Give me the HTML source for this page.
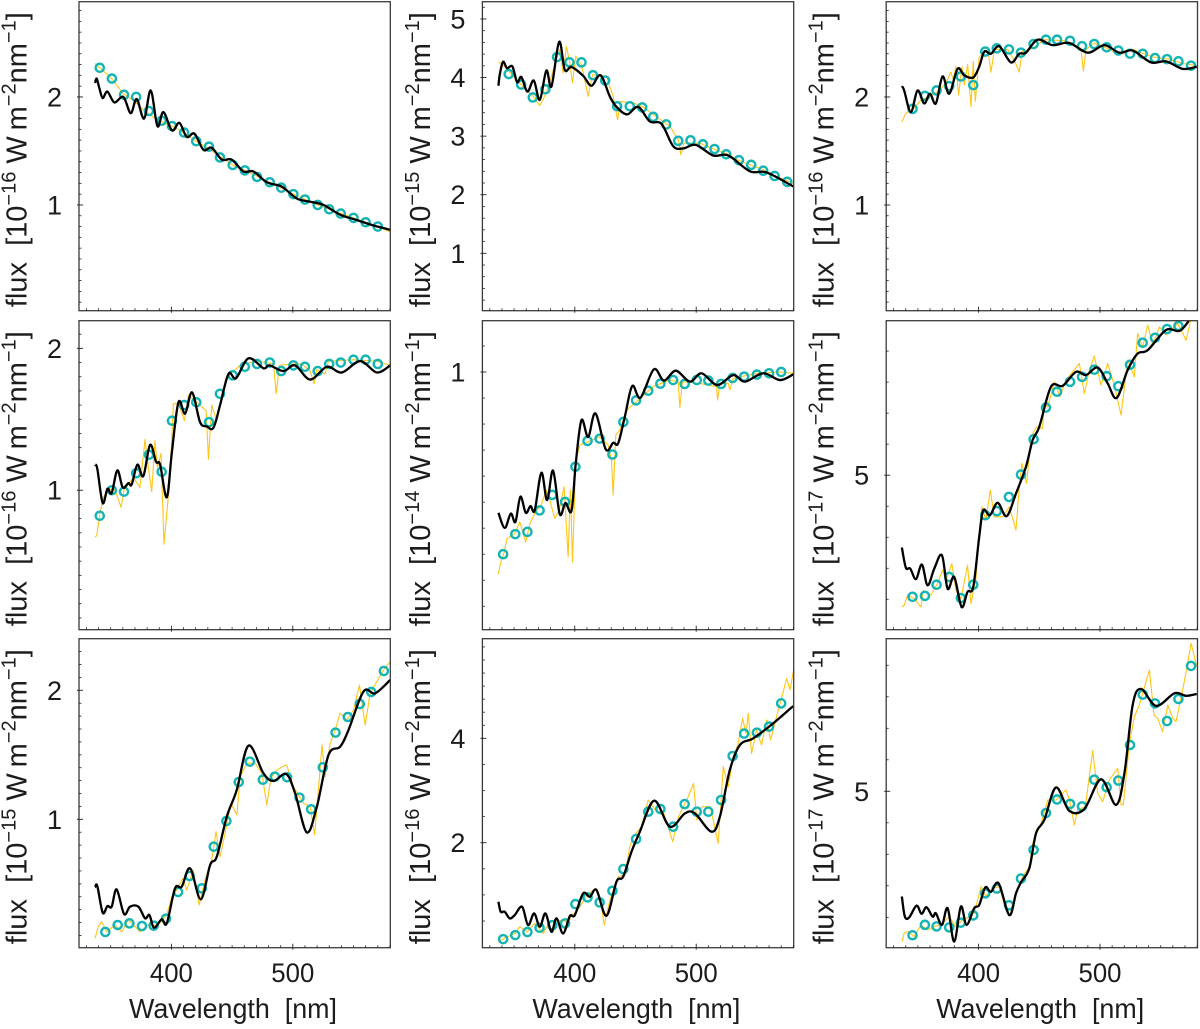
<!DOCTYPE html>
<html lang="en">
<head>
<meta charset="utf-8">
<title>Flux spectra</title>
<style>
html,body{margin:0;padding:0;background:#fff;}
svg{display:block;}
text{font-family:"Liberation Sans",sans-serif;fill:#1c1c1c;}
</style>
</head>
<body>
<svg id="figure" xmlns="http://www.w3.org/2000/svg" width="1200" height="1029" viewBox="0 0 1200 1029"></svg>
<script>
// Shared x axis data
const xLimits = [323.9, 580.3];
const xMajorTicks = [400, 500];
const xMinorTicks = [330,340,350,360,370,380,390,410,420,430,440,450,460,470,480,490,510,520,530,540,550,560,570,580];
const bandWavelengthsA = [341,351,361,371,381.5,392,400.5,410.5,420.5,431,440,450.5,460.5,470.5,481,490.5,500.5,510,520.5,530,539.5,550,560,570];
const bandWavelengthsB = [345.6,355.8,365.4,375.8,385.4,395.6,405.5,415,425,434.9,445.3,455.5,464.6,475.3,485.2,495.3,505.5,515.1,524.7,535.2,545.3,555.2,564.6,575];

// Panel 1
const p1Band = [2.27,2.17,2.02,2.00,1.87,1.78,1.73,1.67,1.59,1.54,1.44,1.37,1.32,1.26,1.21,1.16,1.10,1.05,1.00,.96,.92,.88,.84,.80];
const p1ModelX = [337.1,338.5,340.7,343.4,347.3,353,360.4,366.5,371.4,377.5,383,388.5,393.4,400.5,406.6,412.6,419,426.4,433.2,441.5,449.7,459.3,467.6,478.6,490.9,503.3,514.3,525.3,539,552.7,566.5,580.2];
const p1ModelY = [2.13,2.17,2.08,1.99,2.05,1.95,2.00,1.85,1.98,1.80,2.06,1.73,1.86,1.69,1.76,1.63,1.66,1.51,1.53,1.42,1.42,1.31,1.31,1.21,1.17,1.06,1.03,1.00,.91,.86,.81,.77];
const p1SpecX = [337.1,341.2,350.8,360.4,368.7,376.9,387.9,400.5,410.4,420.3,431,440,450.3,460.7,480.8,500.5,520.3,550,570,580.2];
const p1SpecY = [2.31,2.27,2.17,2.03,1.97,1.88,1.79,1.73,1.67,1.59,1.52,1.45,1.37,1.32,1.21,1.10,1.0,.88,.8,.75];
const p1Limits = [0.021, 2.882];
const p1Major = [1,2];
const p1Minor = [.1,.2,.3,.4,.5,.6,.7,.8,.9,1.1,1.2,1.3,1.4,1.5,1.6,1.7,1.8,1.9,2.1,2.2,2.3,2.4,2.5,2.6,2.7,2.8];

// Panel 2
const p2Band = [4.06,3.88,3.66,3.80,4.35,4.26,4.26,4.04,3.95,3.51,3.51,3.49,3.33,3.20,2.92,2.93,2.86,2.78,2.69,2.59,2.51,2.41,2.32,2.22];
const p2ModelX = [337.1,338.2,340.9,344.2,348.6,352.5,356,361,366.2,371.2,376.6,380.8,387.1,391.8,397.3,406.9,413.7,421.2,428.8,434.3,443.1,452.2,461.8,471.4,481,489.3,499.7,514,526.4,544.2,558,580];
const p2ModelY = [3.86,4.05,4.27,4.16,4.19,3.92,4.01,3.76,3.95,3.62,4.12,3.85,4.61,4.13,4.18,4.03,3.86,4.04,3.68,3.50,3.37,3.50,3.25,3.21,2.83,2.79,2.85,2.67,2.67,2.40,2.38,2.14];
const p2SpecX = [337.1,343.7,350.5,360.2,365.7,371.2,376.6,380.8,384.9,387.6,390.4,393.1,395.9,398.1,400.8,405.5,411,414.6,426.1,431.6,435.2,437.6,448,456.3,467.3,478.3,485.2,487.4,489.8,503,514.4,525.4,534.4,544.6,554.8,565,583];
const p2SpecY = [4.27,4.16,3.99,3.79,3.68,3.52,3.74,4.02,4.33,4.48,4.08,4.53,4.25,3.91,4.36,4.22,3.68,4.05,4.02,3.68,3.28,3.59,3.57,3.50,3.33,3.17,2.94,2.68,2.88,2.88,2.78,2.70,2.59,2.51,2.43,2.32,2.17];
const p2Limits = [0.02, 5.295];
const p2Major = [1,2,3,4,5];
const p2Minor = [.2,.4,.6,.8,1.2,1.4,1.6,1.8,2.2,2.4,2.6,2.8,3.2,3.4,3.6,3.8,4.2,4.4,4.6,4.8,5.2];

// Panel 3
const p3Band = [1.89,2.01,2.06,2.10,2.19,2.11,2.42,2.45,2.44,2.41,2.49,2.53,2.53,2.52,2.47,2.49,2.46,2.43,2.40,2.40,2.36,2.35,2.33,2.29];
const p3ModelX = [336.8,338.7,344.2,349.7,355.2,359.9,364.8,370.3,375.8,382.7,388.2,395.6,400.5,404.7,410.2,417,426.6,433.5,439,448.6,461,474.7,489.8,503.6,515.9,526.9,542,554.4,568.1,579.7];
const p3ModelY = [2.10,2.06,1.86,2.06,1.94,2.03,1.94,2.19,2.03,2.26,2.20,2.18,2.28,2.42,2.40,2.47,2.32,2.40,2.41,2.53,2.48,2.50,2.41,2.48,2.41,2.43,2.32,2.33,2.26,2.28];
const p3SpecX = [336.8,340.1,347,352.5,362.1,367.6,373.1,377.2,379.1,381.3,383.5,386.3,388.2,391,393.7,395.6,397.3,400.5,407.6,410.2,413,424,429.4,433.5,435.7,444.5,454.1,472,484.3,486.3,488.5,495.3,507.7,515.9,526.9,543.4,557.1,568.1,579.7];
const p3SpecY = [1.77,1.85,1.90,1.97,2.02,2.06,2.13,2.23,2.16,2.28,2.02,2.28,2.11,2.30,1.91,2.33,1.96,2.37,2.44,2.23,2.44,2.44,2.34,2.23,2.42,2.45,2.53,2.52,2.45,2.24,2.44,2.50,2.44,2.39,2.44,2.37,2.35,2.31,2.29];
const p3Limits = [0.021, 2.882];
const p3Major = [1,2];
const p3Minor = [.1,.2,.3,.4,.5,.6,.7,.8,.9,1.1,1.2,1.3,1.4,1.5,1.6,1.7,1.8,1.9,2.1,2.2,2.3,2.4,2.5,2.6,2.7,2.8];

// Panel 4
const p4Band = [.82,1.00,.99,1.12,1.25,1.13,1.49,1.60,1.62,1.48,1.68,1.81,1.87,1.89,1.90,1.84,1.88,1.87,1.84,1.89,1.90,1.92,1.92,1.89];
const p4ModelX = [337.1,339,343.4,347.3,350.8,355.5,359.9,364.6,367.3,372,376.9,382.4,387.4,390.7,396.2,400.3,405.8,411.3,417,423.6,429.1,434.6,440.1,447,453.3,463.5,475.8,480.8,492.3,501.9,514.3,528,540.4,555.5,569.2,580.2];
const p4ModelY = [1.18,1.15,.91,1.01,.98,1.14,1.02,1.05,1.04,1.18,1.10,1.32,1.20,1.18,.95,1.26,1.62,1.54,1.69,1.48,1.45,1.44,1.60,1.82,1.79,1.93,1.86,1.88,1.84,1.88,1.78,1.87,1.83,1.91,1.83,1.88];
const p4SpecX = [337.1,338.5,341.2,344,348,353.6,358.5,361,368.7,374.1,378.3,381,383.8,386.5,388.5,391.5,393.9,397,399.5,401.6,405.8,410.7,414,423.6,428.6,430.5,433.2,437.4,441.5,447,458,471.6,484.1,486.3,489,500.5,507.4,514.3,517.6,519.8,526.6,529.4,550,569.2,580.2];
const p4SpecY = [.67,.68,.84,.95,1.01,1.00,.88,1.00,1.09,1.02,1.36,1.16,.99,1.35,1.16,1.26,.62,.91,1.21,1.61,1.61,1.49,1.67,1.60,1.56,1.22,1.60,1.49,1.68,1.81,1.89,1.91,1.89,1.68,1.88,1.89,1.89,1.84,1.75,1.85,1.82,1.91,1.92,1.91,1.88];
const p4Limits = [0.017, 2.195];
const p4Major = [1,2];
const p4Minor = [.1,.2,.3,.4,.5,.6,.7,.8,.9,1.1,1.2,1.3,1.4,1.5,1.6,1.7,1.8,1.9,2.1];

// Panel 5
const p5Band = [.30,.377,.386,.468,.528,.501,.636,.735,.744,.683,.808,.891,.928,.955,.969,.954,.969,.967,.954,.977,.982,.99,.995,1.0];
const p5ModelX = [337.1,342.3,347.3,351.1,355.2,359.6,363.5,367,372.5,377.2,382.1,387.6,392.3,397.3,400.8,405.5,411,417,425.5,431.6,435.7,441.2,447.3,454.1,465.1,473.4,483.2,494.8,504.4,517.3,530.5,540.1,555.2,569,580];
const p5ModelY = [.459,.401,.456,.424,.521,.459,.485,.469,.613,.508,.621,.454,.497,.467,.649,.815,.751,.841,.703,.728,.726,.828,.946,.901,1.01,.967,1.005,.963,.995,.95,.988,.963,.995,.969,.991];
const p5SpecX = [337.1,338.7,341.5,344.2,350.5,354.7,359.6,363,367,372.5,376.6,379.4,383.5,387.1,391.2,394.5,396.4,398.1,400.8,404.1,411,420.6,427.5,430.2,431.6,433.8,437.1,442.6,450.8,464.6,478.3,485.2,486.5,488.7,503,516.8,517.6,519.5,526.4,527.7,530.5,550.3,569,580];
const p5SpecY = [.223,.264,.303,.36,.379,.424,.347,.418,.456,.492,.546,.508,.437,.469,.559,.29,.546,.27,.662,.719,.732,.751,.719,.662,.527,.758,.777,.854,.886,.944,.969,.963,.864,.963,.956,.944,.892,.956,.956,.931,.976,.995,1.0,.995];
const p5Limits = [0.01, 1.197];
const p5Major = [1];
const p5Minor = [.1,.2,.3,.4,.5,.6,.7,.8,.9,1.1];

// Panel 6
const p6Band = [1.08,1.11,1.47,1.72,1.04,1.47,3.71,3.84,4.30,5.02,6.16,7.18,7.69,8.01,8.17,8.40,8.19,7.87,8.56,9.27,9.43,9.71,9.81,10.2];
const p6ModelX = [336.8,340.1,343.7,348.4,353.3,358,363.5,369.8,374.5,379.9,386,390.9,395.6,400.5,403.8,409.3,415.7,423.1,430.8,439,444.5,450,459.6,469.2,480.2,488.5,498.1,506.3,513.7,522.8,531,539.3,554.4,566.8,579.7];
const p6ModelY = [2.67,2.02,1.99,1.65,2.12,1.45,1.99,2.42,1.34,1.72,.75,1.24,1.40,3.01,3.87,3.71,4.11,3.68,4.41,5.27,6.13,6.56,7.85,7.88,8.33,8.23,8.47,7.96,7.49,8.39,8.92,9.03,9.68,9.68,10.38];
const p6SpecX = [336.8,338.7,341.5,347,352.5,354.4,360.7,366.2,370.3,373.1,378,381.3,385.4,390.9,393.7,397.8,400.5,402.7,406,409.6,412.9,419.8,425.3,430.8,433.5,435.7,439.6,443.1,447.8,452.7,454.1,456.9,462.4,467,472,478.8,483,487.1,491.2,495.3,500.8,506.3,511.8,517.3,522.8,528.3,531,535.2,539.3,543.4,548.9,554.4,564,570.9,575,579.7];
const p6SpecY = [.75,.81,1.13,1.02,.75,1.29,1.13,1.51,1.94,1.61,2.15,1.29,1.02,2.10,.86,1.67,3.12,3.98,3.55,4.52,3.66,3.66,3.98,3.23,4.62,5.38,4.73,6.24,6.56,6.5,7.31,7.2,8.01,7.53,8.06,8.39,8.6,7.63,8.39,8.84,7.9,8.6,7.9,6.94,8.71,8.17,9.57,9.14,9.84,9.19,9.78,9.52,9.89,9.35,10.05,10.1];
const p6Limits = [0.02, 9.98];
const p6Major = [5];
const p6Minor = [1,2,3,4,6,7,8,9];

// Panel 7
const p7Band = [.127,.181,.194,.173,.176,.23,.437,.561,.465,.788,.987,1.289,1.447,1.307,1.331,1.326,1.168,1.078,1.403,1.672,1.793,1.894,1.987,2.15];
const p7ModelX = [337.1,339,343.4,347.3,350.8,354.9,361,365.9,372.8,378.3,381.9,385.7,392,396.2,403,408.5,415.4,424.2,431.9,437.4,445.6,453.8,463.5,475.8,484.1,494.5,501.9,511.5,519.8,529.4,539,545.9,558.2,567.9,580.2];
const p7ModelY = [.473,.483,.276,.328,.323,.457,.266,.323,.323,.233,.258,.16,.225,.194,.465,.478,.62,.38,.646,.711,1.02,1.227,1.571,1.357,1.297,1.351,1.202,.899,1.098,1.499,1.563,1.693,1.99,1.977,2.08];
const p7SpecX = [337.1,339.8,342.6,346.7,353.6,359,364.6,374.2,382.4,387.9,396.2,400.3,404.4,409.3,412.6,418.1,422.8,427.8,433.2,436.8,440.1,444.2,449,454,456.6,462.1,469,474.5,478.6,481.9,486.8,492.3,495,500.5,508.8,514.3,518,524.1,526.6,530.8,534.9,539,544.5,550,554.9,559.6,563.7,569.2,574.7,580.2];
const p7SpecY = [.078,.168,.207,.129,.181,.129,.22,.129,.194,.168,.258,.4,.452,.543,.452,.607,.336,.53,.685,.904,.711,.891,1.124,1.034,1.331,1.434,1.434,1.357,1.111,1.318,1.382,1.413,1.421,1.253,1.124,1.098,.879,1.576,1.331,1.589,1.693,1.822,1.77,1.848,2.041,1.731,1.977,2.067,2.158,2.222];
const p7Limits = [0.005, 2.4];
const p7Major = [1,2];
const p7Minor = [.1,.2,.3,.4,.5,.6,.7,.8,.9,1.1,1.2,1.3,1.4,1.5,1.6,1.7,1.8,1.9,2.1,2.2,2.3];

// Panel 8
const p8Band = [.153,.23,.288,.37,.42,.454,.824,.952,.856,1.08,1.495,2.07,2.594,2.645,2.307,2.74,2.594,2.594,2.818,3.661,4.09,4.109,4.224,4.67];
const p8ModelX = [337.1,339,342.3,346.4,350.5,356.6,361.5,366.5,371.2,375.8,380.8,384.9,390.4,395.9,400,406.9,412.4,417.9,426.1,434.3,439.8,446.7,453.6,465.4,478.3,490.7,498.9,512.6,519.5,527.7,536,547,563.5,580];
const p8ModelY = [.869,.677,.677,.55,.613,.773,.422,.645,.39,.645,.294,.55,.262,.594,.613,1.029,.965,1.093,.6,1.252,1.348,1.827,2.211,2.805,2.307,2.562,2.562,2.211,2.498,3.393,3.872,4.0,4.288,4.62];
const p8SpecX = [337.1,341.5,350.5,354.7,360.8,367,373.9,379.4,390.4,394.5,397.3,401.4,411,417.9,421.2,424.2,428.9,435.7,441.2,445.3,448.1,454.9,460.4,467.3,472.8,480.7,485.4,492.3,497.8,500.5,504.7,511.5,514,518.1,522.3,526.4,530.5,534.6,538.2,541,542.9,545.6,549.7,553.8,558,561.3,567.6,571.7,574.5,577.2,580.5];
const p8SpecY = [.102,.166,.262,.39,.294,.454,.262,.486,.518,.454,.613,.677,1.029,1.125,.901,.422,.901,1.348,1.38,1.923,2.115,2.307,2.818,2.594,2.594,2.019,2.498,2.818,3.137,2.435,2.69,2.69,2.435,1.987,3.457,3.073,3.649,3.904,4.383,4.096,4.479,3.712,4.16,3.872,4.351,3.968,4.543,4.895,5.15,4.927,5.34];
const p8Limits = [-0.011, 5.908];
const p8Major = [2,4];
const p8Minor = [.5,1,1.5,2.5,3,3.5,4.25,4.5,4.75,5,5.25,5.5,5.75];

// Panel 9
const p9Band = [.43,.76,.71,.68,.83,1.06,1.76,1.91,1.38,2.23,3.14,4.31,4.74,4.60,4.52,5.37,5.13,5.34,6.47,8.07,7.79,7.23,7.93,8.98];
const p9ModelX = [336.8,339.3,342.9,348.9,353,357.1,362.1,364.8,369.8,374.5,379.9,385.4,390.1,396.4,400.5,405.5,410.2,416.5,425.3,430.8,434.9,441.8,447.3,454.1,463.7,474.7,487.1,500.8,513.2,520.1,526.9,533.8,546.2,561.3,570.9,579.7];
const p9ModelY = [1.66,1.02,1.0,1.37,1.11,1.32,1.02,1.13,.76,1.29,.23,1.34,.76,1.29,1.39,1.95,1.81,2.08,1.07,1.76,2.11,2.56,3.67,4.09,5.12,4.38,4.44,5.38,4.57,5.57,7.74,8.25,7.71,8.11,8.03,8.09];
const p9SpecX = [336.8,338.7,341.5,347,352.5,358,363.5,370.3,375.8,381.3,386.8,392.3,396.4,402,406,411.5,417,422.5,425.8,430.8,436.3,441.8,444.5,451.4,456.9,463.7,472,475.3,478.8,481.6,487.9,491.2,494,498.1,502.2,507.7,514.6,517.3,519.2,524.2,528.3,532.4,537.9,540.7,544.5,547.5,551.6,555.8,559.9,562.6,568.1,572.2,575,579.7];
const p9SpecY = [.23,.49,.55,.39,.76,.6,.7,.81,1.02,.7,.92,1.02,1.13,1.97,1.66,1.92,1.97,1.23,1.07,1.76,2.29,2.61,3.35,3.98,4.72,4.72,5.04,4.67,3.93,4.41,4.51,5.47,6.29,4.94,4.67,5.36,5.73,4.57,4.57,6.52,7.37,7.74,8.48,8.85,7.42,7.32,6.89,7.74,7.32,7.21,8.22,9.06,9.7,8.96];
const p9Limits = [0.035, 9.844];
const p9Major = [5];
const p9Minor = [1,2,3,4,6,7,8,9];

// Y-axis exponents for each panel, printed in the axis titles
const fluxExponents = ['16','15','16','16','14','17','15','16','17'];

const panels = [
  {col:0,row:0,bands:bandWavelengthsA,band:p1Band,mx:p1ModelX,my:p1ModelY,sx:p1SpecX,sy:p1SpecY,lim:p1Limits,major:p1Major,minor:p1Minor},
  {col:1,row:0,bands:bandWavelengthsB,band:p2Band,mx:p2ModelX,my:p2ModelY,sx:p2SpecX,sy:p2SpecY,lim:p2Limits,major:p2Major,minor:p2Minor},
  {col:2,row:0,bands:bandWavelengthsB,band:p3Band,mx:p3ModelX,my:p3ModelY,sx:p3SpecX,sy:p3SpecY,lim:p3Limits,major:p3Major,minor:p3Minor},
  {col:0,row:1,bands:bandWavelengthsA,band:p4Band,mx:p4ModelX,my:p4ModelY,sx:p4SpecX,sy:p4SpecY,lim:p4Limits,major:p4Major,minor:p4Minor},
  {col:1,row:1,bands:bandWavelengthsA,band:p5Band,mx:p5ModelX,my:p5ModelY,sx:p5SpecX,sy:p5SpecY,lim:p5Limits,major:p5Major,minor:p5Minor},
  {col:2,row:1,bands:bandWavelengthsB,band:p6Band,mx:p6ModelX,my:p6ModelY,sx:p6SpecX,sy:p6SpecY,lim:p6Limits,major:p6Major,minor:p6Minor},
  {col:0,row:2,bands:bandWavelengthsB,band:p7Band,mx:p7ModelX,my:p7ModelY,sx:p7SpecX,sy:p7SpecY,lim:p7Limits,major:p7Major,minor:p7Minor},
  {col:1,row:2,bands:bandWavelengthsA,band:p8Band,mx:p8ModelX,my:p8ModelY,sx:p8SpecX,sy:p8SpecY,lim:p8Limits,major:p8Major,minor:p8Minor},
  {col:2,row:2,bands:bandWavelengthsB,band:p9Band,mx:p9ModelX,my:p9ModelY,sx:p9SpecX,sy:p9SpecY,lim:p9Limits,major:p9Major,minor:p9Minor}
];

const NS = 'http://www.w3.org/2000/svg';
const svg = document.getElementById('figure');
const colLeft = [79, 482.4, 886.2];
const rowTop = [1.7, 320.7, 638.7];
const plotW = 311.3;
const plotH = 309;
const axisColor = '#3a3a3a';

function make(tag, parent) {
  const el = document.createElementNS(NS, tag);
  parent.appendChild(el);
  return el;
}

function smoothPath(xs, ys) {
  let d = 'M' + xs[0].toFixed(2) + ' ' + ys[0].toFixed(2);
  for (let i = 0; i < xs.length - 1; i++) {
    const a = Math.max(i - 1, 0), b = i + 1, c = Math.min(i + 2, xs.length - 1);
    const c1x = xs[i] + (xs[b] - xs[a]) / 6, c1y = ys[i] + (ys[b] - ys[a]) / 6;
    const c2x = xs[b] - (xs[c] - xs[i]) / 6, c2y = ys[b] - (ys[c] - ys[i]) / 6;
    d += 'C' + c1x.toFixed(2) + ' ' + c1y.toFixed(2) + ' ' + c2x.toFixed(2) + ' ' + c2y.toFixed(2) + ' ' + xs[b].toFixed(2) + ' ' + ys[b].toFixed(2);
  }
  return d;
}

function addTick(parent, x1, y1, x2, y2, width, name) {
  const t = make('line', parent);
  
  
  t.setAttribute('x1', x1);
  t.setAttribute('y1', y1);
  t.setAttribute('x2', x2);
  t.setAttribute('y2', y2);
  t.setAttribute('stroke', '#222');
  t.setAttribute('stroke-width', width);
}

panels.forEach(function (p, idx) {
  const left = colLeft[p.col], top = rowTop[p.row], bottom = top + plotH, right = left + plotW;
  const xAt = function (v) { return left + (v - xLimits[0]) / (xLimits[1] - xLimits[0]) * plotW; };
  const yAt = function (v) { return bottom - (v - p.lim[0]) / (p.lim[1] - p.lim[0]) * plotH; };
  const n = idx + 1;

  const g = make('g', svg);
  
  

  const clip = make('clipPath', g);
  clip.setAttribute('id', 'clip-' + n);
  const clipRect = make('rect', clip);
  clipRect.setAttribute('x', left);
  clipRect.setAttribute('y', top);
  clipRect.setAttribute('width', plotW);
  clipRect.setAttribute('height', plotH);

  const plot = make('g', g);
  
  
  plot.setAttribute('clip-path', 'url(#clip-' + n + ')');

  const spectrum = make('polyline', plot);
  
  
  spectrum.setAttribute('points', p.sx.map(function (v, i) { return xAt(v).toFixed(2) + ',' + yAt(p.sy[i]).toFixed(2); }).join(' '));
  spectrum.setAttribute('fill', 'none');
  spectrum.setAttribute('stroke', '#ffc516');
  spectrum.setAttribute('stroke-width', '1.1');
  spectrum.setAttribute('stroke-linejoin', 'round');

  p.band.forEach(function (v, i) {
    const c = make('circle', plot);
    
    
    c.setAttribute('cx', xAt(p.bands[i]).toFixed(2));
    c.setAttribute('cy', yAt(v).toFixed(2));
    c.setAttribute('r', '4.1');
    c.setAttribute('fill', 'none');
    c.setAttribute('stroke', '#14b4b4');
    c.setAttribute('stroke-width', '2.4');
  });

  const model = make('path', plot);
  
  
  model.setAttribute('d', smoothPath(p.mx.map(xAt), p.my.map(yAt)));
  model.setAttribute('fill', 'none');
  model.setAttribute('stroke', '#000');
  model.setAttribute('stroke-width', '2.3');
  model.setAttribute('stroke-linejoin', 'round');

  const frame = make('rect', g);
  
  
  frame.setAttribute('x', left);
  frame.setAttribute('y', top);
  frame.setAttribute('width', plotW);
  frame.setAttribute('height', plotH);
  frame.setAttribute('fill', 'none');
  frame.setAttribute('stroke', axisColor);
  frame.setAttribute('stroke-width', '1.3');

  xMajorTicks.forEach(function (v) {
    addTick(g, xAt(v), bottom + 2, xAt(v), bottom - 4, 0.9, 'x-major-tick');
  });
  xMinorTicks.forEach(function (v) {
    addTick(g, xAt(v), bottom, xAt(v), bottom - 2.5, 0.8, 'x-minor-tick');
  });
  p.major.forEach(function (v) {
    addTick(g, left - 2, yAt(v), left + 4, yAt(v), 0.9, 'y-major-tick');
  });
  p.minor.forEach(function (v) {
    addTick(g, left, yAt(v), left + 2.5, yAt(v), 0.8, 'y-minor-tick');
  });

  p.major.forEach(function (v) {
    const label = make('text', g);
    
    
    label.setAttribute('x', left - 17);
    label.setAttribute('y', yAt(v) + 9.5);
    label.setAttribute('text-anchor', 'end');
    label.setAttribute('font-size', '27');
    label.textContent = String(v);
  });

  if (p.row === 2) {
    xMajorTicks.forEach(function (v) {
      const label = make('text', g);
      
      
      label.setAttribute('x', xAt(v));
      label.setAttribute('y', 982);
      label.setAttribute('text-anchor', 'middle');
      label.setAttribute('font-size', '27');
      label.setAttribute('textLength', '43');
      label.setAttribute('lengthAdjust', 'spacingAndGlyphs');
      label.textContent = String(v);
    });
    const xTitle = make('text', g);
    
    
    xTitle.setAttribute('x', left + 154);
    xTitle.setAttribute('y', 1018);
    xTitle.setAttribute('text-anchor', 'middle');
    xTitle.setAttribute('font-size', '28');
    xTitle.setAttribute('textLength', '208');
    xTitle.setAttribute('lengthAdjust', 'spacingAndGlyphs');
    xTitle.textContent = 'Wavelength\u00a0\u00a0[nm]';
  }

  const yx = left - 52.5;
  const yy = top + plotH / 2 + 3.5;
  const yTitle = make('text', g);
  
  
  yTitle.setAttribute('x', yx);
  yTitle.setAttribute('y', yy);
  yTitle.setAttribute('transform', 'rotate(-90 ' + yx + ' ' + yy + ')');
  yTitle.setAttribute('text-anchor', 'middle');
  yTitle.setAttribute('font-size', '29');
  yTitle.setAttribute('textLength', '295');
  yTitle.setAttribute('lengthAdjust', 'spacingAndGlyphs');
  const parts = [
    ['flux\u00a0\u00a0[10', 0, 29],
    ['\u2212' + fluxExponents[idx], -11, 20],
    ['\u00a0W\u2009m', 11, 29],
    ['\u22122', -11, 20],
    ['nm', 11, 29],
    ['\u22121', -11, 20],
    [']', 11, 29]
  ];
  parts.forEach(function (part) {
    const s = make('tspan', yTitle);
    s.setAttribute('dy', part[1]);
    s.setAttribute('font-size', part[2]);
    s.textContent = part[0];
  });
});
</script>
</body>
</html>
